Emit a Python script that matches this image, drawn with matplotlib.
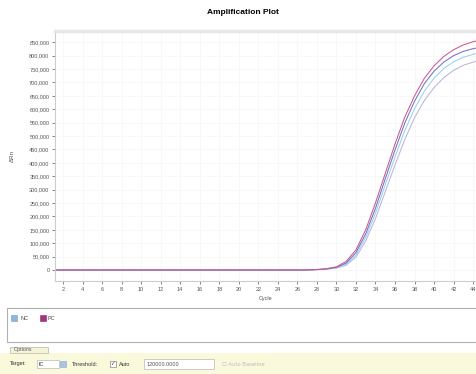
import matplotlib.pyplot as plt
from matplotlib.patches import Rectangle

plt.rcParams['font.family'] = ['Liberation Sans', 'DejaVu Sans']

W, H = 477, 374

cycles = list(range(1, 46))
base = [0] * 27
pc_a = base + [2000, 5000, 12000, 32000, 75000, 150000, 250000, 360000, 470000, 570000,
               650000, 715000, 762000, 797000, 822000, 840000, 852000, 860000]
pc_b = base + [1500, 4000, 10000, 26000, 65000, 135000, 230000, 340000, 448000, 548000,
               630000, 695000, 742000, 776000, 800000, 816000, 826000, 833000]
nc_a = base + [1200, 3500, 8500, 22000, 56000, 122000, 212000, 318000, 422000, 520000,
               602000, 667000, 716000, 752000, 777000, 794000, 805000, 812000]
nc_b = base + [1000, 3000, 7000, 18000, 48000, 108000, 192000, 292000, 392000, 487000,
               568000, 632000, 681000, 718000, 745000, 764000, 776000, 784000]

series = [(nc_b, '#bcb4de'), (nc_a, '#96d2ec'), (pc_b, '#7470c8'), (pc_a, '#cc5a86')]
y_ticks = list(range(0, 850001, 50000))
x_ticks = list(range(2, 45, 2))


def fx(x):
    return x / W


def fy(y):
    return 1 - y / H


fig = plt.figure(figsize=(W / 100, H / 100), dpi=100)

ax = fig.add_axes([fx(55), fy(281), fx(477 - 55), (281 - 31) / H])
for vals, col in series:
    ax.plot(cycles, vals, color=col, lw=0.75)

ax.set_xlim(1.18, 44.4)
ax.set_ylim(-41000, 892000)
ax.set_xticks(x_ticks)
ax.set_yticks(y_ticks)
ax.set_yticklabels(['0' if v == 0 else f'{v:,}' for v in y_ticks])
ax.tick_params(labelsize=4, length=2, width=0.5, pad=2, colors='#555555')
ax.grid(True, color='#f6f6f6', lw=0.5)
for s in ['left', 'bottom']:
    ax.spines[s].set_color('#cccccc')
    ax.spines[s].set_linewidth(0.8)
ax.spines['right'].set_visible(False)
ax.spines['top'].set_color('#e6e6e6')
ax.spines['top'].set_linewidth(2.5)
ax.set_xlabel('Cycle', fontsize=4, color='#555555', labelpad=3)
ax.set_ylabel('ΔRn', fontsize=4.5, color='#555555', labelpad=10)

fig.text(fx(243), fy(12), 'Amplification Plot', fontsize=6, fontweight='bold',
         ha='center', va='center')

# legend panel
fig.patches.append(Rectangle((fx(7), fy(342)), fx(477 - 7), (342 - 308) / H,
                             transform=fig.transFigure, fc='white', ec='#b0b0b0', lw=0.8))
fig.patches.append(Rectangle((fx(11), fy(321)), fx(6), 6 / H, transform=fig.transFigure,
                             fc='#8cb8dc', ec='#7a9cc0', lw=0.4))
fig.text(fx(21), fy(318), 'NC', fontsize=4, va='center', color='#444444')
fig.patches.append(Rectangle((fx(40), fy(321)), fx(6), 6 / H, transform=fig.transFigure,
                             fc='#a8307c', ec='#902868', lw=0.4))
fig.text(fx(48), fy(318), 'PC', fontsize=4, va='center', color='#444444')

# options panel
fig.patches.append(Rectangle((0, 0), 1, (374 - 353) / H, transform=fig.transFigure,
                             fc='#fbf9dc', ec='none'))
fig.patches.append(Rectangle((fx(10), fy(353)), fx(38), 6 / H, transform=fig.transFigure,
                             fc='#f4f2d8', ec='#b8b8a8', lw=0.5))
fig.text(fx(14), fy(350), 'Options', fontsize=3.8, va='center', color='#555555')
fig.text(fx(10), fy(364), 'Target:', fontsize=4, va='center', color='#333333')
fig.patches.append(Rectangle((fx(37), fy(368)), fx(22), 8 / H, transform=fig.transFigure,
                             fc='white', ec='#b8b8b8', lw=0.5))
fig.text(fx(39), fy(364), 'IC', fontsize=4, va='center', color='#333333')
fig.patches.append(Rectangle((fx(60), fy(367)), fx(6), 6 / H, transform=fig.transFigure,
                             fc='#a8c4e0', ec='#8aa8c8', lw=0.4))
fig.text(fx(72), fy(364), 'Threshold:', fontsize=4, va='center', color='#333333')
fig.patches.append(Rectangle((fx(110), fy(367)), fx(6), 6 / H, transform=fig.transFigure,
                             fc='white', ec='#888888', lw=0.5))
fig.text(fx(110.5), fy(364), '✓', fontsize=4, va='center', color='#333333',
         family=['DejaVu Sans'])
fig.text(fx(119), fy(364), 'Auto', fontsize=4, va='center', color='#333333')
fig.patches.append(Rectangle((fx(144), fy(369)), fx(70), 10 / H, transform=fig.transFigure,
                             fc='white', ec='#b8b8b8', lw=0.5))
fig.text(fx(147), fy(364), '120000.0000', fontsize=4, va='center', color='#555555')
fig.text(fx(222), fy(364), '☐ Auto Baseline', fontsize=3.8, va='center', color='#bbbbbb',
         family=['DejaVu Sans'])

fig.savefig('out.png', dpi=100)
